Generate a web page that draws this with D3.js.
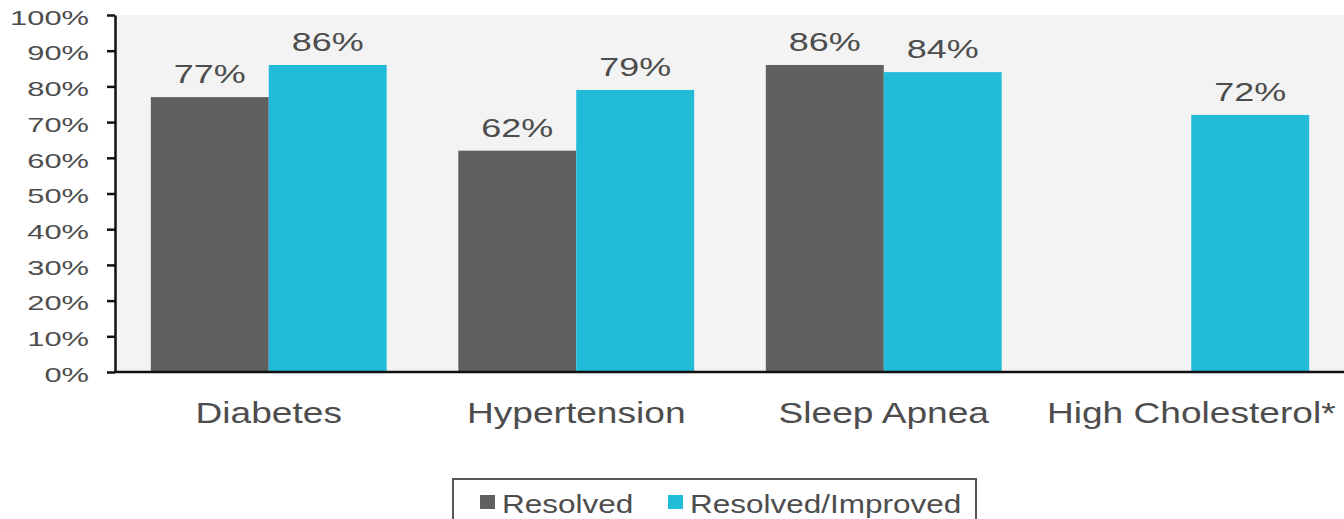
<!DOCTYPE html>
<html lang="en">
<head>
<meta charset="UTF-8">
<title>Resolution rates</title>
<script src="https://cdn.jsdelivr.net/npm/d3@7/dist/d3.min.js"></script>
<style>
  body { margin: 0; background: #fff; }
  text { font-family: "Liberation Sans", Arial, sans-serif; fill: #4d4d4d; }
</style>
</head>
<body>
<svg width="1344" height="519"></svg>
<script>
// data
var categories = ['Diabetes', 'Hypertension', 'Sleep Apnea', 'High Cholesterol*'];
var seriesNames = ['Resolved', 'Resolved/Improved'];
var resolved = [77, 62, 86, null];
var improved = [86, 79, 84, 72];
var yTicks = [0, 10, 20, 30, 40, 50, 60, 70, 80, 90, 100];
var colors = ['#5e6160', '#22bcd9'];

var svg = d3.select('svg');
var plotL = 115, plotR = 1345, plotT = 15, plotB = 372;

var x0 = d3.scaleBand().domain(categories).range([plotL, plotR])
    .paddingInner(0.233).paddingOuter(0.1165);
var x1 = d3.scaleBand().domain(seriesNames).range([0, x0.bandwidth()]);
var y = d3.scaleLinear().domain([0, 100]).range([plotB, plotT]);
var color = d3.scaleOrdinal().domain(seriesNames).range(colors);

// plot background
svg.append('rect')
    .attr('x', plotL).attr('y', plotT)
    .attr('width', 1344 - plotL).attr('height', plotB - plotT)
    .attr('fill', '#f3f3f3');

// rows for the bars
var rows = [];
categories.forEach(function (c, i) {
    rows.push({ cat: c, key: seriesNames[0], v: resolved[i] });
    rows.push({ cat: c, key: seriesNames[1], v: improved[i] });
});
rows = rows.filter(function (d) { return d.v != null; });

svg.append('g').selectAll('rect')
    .data(rows).enter().append('rect')
    .attr('x', function (d) { return x0(d.cat) + x1(d.key); })
    .attr('y', function (d) { return y(d.v); })
    .attr('width', x1.bandwidth())
    .attr('height', function (d) { return y(0) - y(d.v); })
    .attr('fill', function (d) { return color(d.key); });

// value labels (glyphs are stretched wide in the original)
svg.append('g').selectAll('text')
    .data(rows).enter().append('text')
    .attr('text-anchor', 'middle')
    .attr('font-size', 25.5)
    .attr('transform', function (d) {
        var cx = x0(d.cat) + x1(d.key) + x1.bandwidth() / 2;
        return 'translate(' + cx + ',' + (y(d.v) - 14) + ') scale(1.41,1)';
    })
    .text(function (d) { return d.v + '%'; });

// y axis
var yAxis = d3.axisLeft(y).tickValues(yTicks)
    .tickFormat(function (d) { return d + '%'; })
    .tickSize(8).tickSizeOuter(0);
var gy = svg.append('g').attr('transform', 'translate(' + plotL + ',0)').call(yAxis);
gy.select('.domain').attr('stroke', '#111').attr('stroke-width', 2.5);
gy.selectAll('.tick line').attr('stroke', '#111').attr('stroke-width', 2.5);
gy.selectAll('.tick text')
    .attr('x', null).attr('dy', '0.44em')
    .attr('font-size', 21).attr('font-family', null)
    .attr('fill', '#4d4d4d')
    .attr('transform', 'translate(-26,0) scale(1.47,1)');

// x baseline
svg.append('line')
    .attr('x1', plotL).attr('x2', 1344)
    .attr('y1', y(0)).attr('y2', y(0))
    .attr('stroke', '#111').attr('stroke-width', 2.5);

// category labels
svg.append('g').selectAll('text')
    .data(categories).enter().append('text')
    .attr('text-anchor', 'middle')
    .attr('font-size', 29)
    .attr('transform', function (d) {
        return 'translate(' + (x0(d) + x0.bandwidth() / 2) + ',423) scale(1.28,1)';
    })
    .text(function (d) { return d; });

// legend
svg.append('rect')
    .attr('x', 453).attr('y', 479)
    .attr('width', 523).attr('height', 60)
    .attr('fill', '#fff').attr('stroke', '#555').attr('stroke-width', 2);

var legX = [480, 668];
var leg = svg.append('g').selectAll('g')
    .data(seriesNames).enter().append('g')
    .attr('transform', function (d, i) { return 'translate(' + legX[i] + ',0)'; });
leg.append('rect')
    .attr('x', 0).attr('y', 495).attr('width', 15).attr('height', 14)
    .attr('fill', function (d) { return color(d); });
leg.append('text')
    .attr('font-size', 25)
    .attr('transform', 'translate(22,513) scale(1.26,1)')
    .text(function (d) { return d; });
</script>
</body>
</html>
